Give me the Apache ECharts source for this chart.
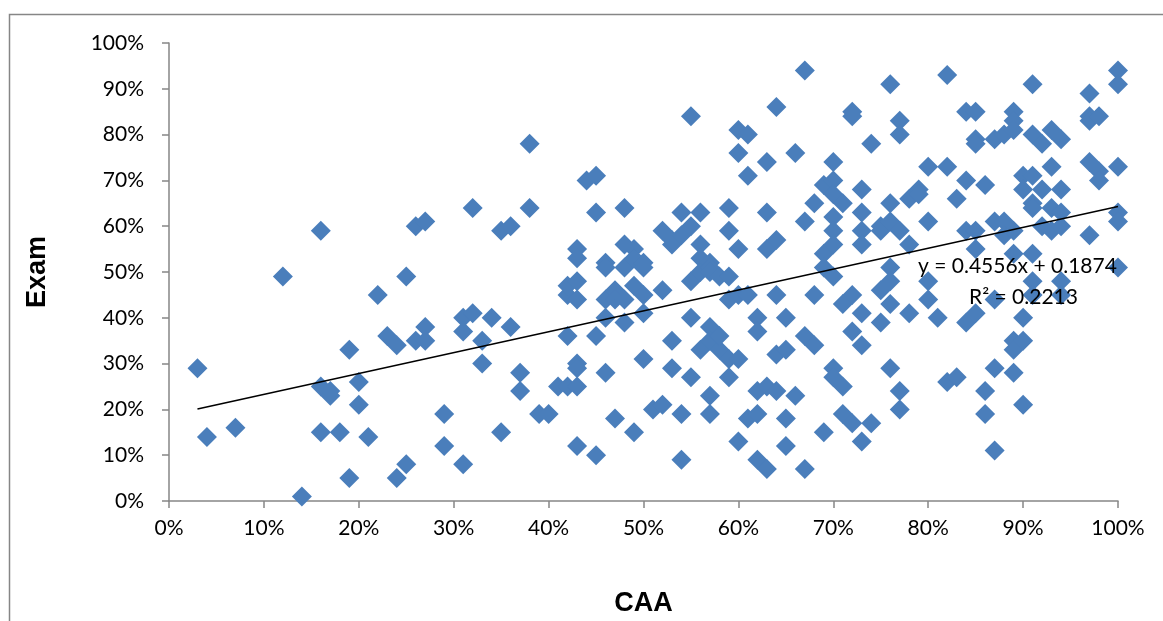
<!DOCTYPE html>
<html>
<head>
<meta charset="utf-8">
<script src="https://cdn.jsdelivr.net/npm/echarts@6/dist/echarts.min.js"></script>
<style>
  html, body { margin: 0; padding: 0; background: #fff; }
  #chart { width: 1163px; height: 621px; }
</style>
</head>
<body>
<div id="chart"></div>
<script>
// CAA score (x) and exam score (y), in percent, grouped by CAA value
const caaGroups = [3, 4, 7, 12, 14, 16, 17, 18, 19, 20, 21, 22, 23, 24, 25, 26, 27, 29, 31, 32,
  33, 34, 35, 36, 37, 38, 39, 40, 41, 42, 43, 44, 45, 46, 47, 48, 49, 50, 51, 52,
  53, 54, 55, 56, 57, 58, 59, 60, 61, 62, 63, 64, 65, 66, 67, 68, 69, 70, 71, 72, 73,
  74, 75, 76, 77, 78, 79, 80, 81, 82, 83, 84, 85, 86, 87, 88, 89, 90, 91, 92, 93,
  94, 97, 98, 100];
const examByGroup = [
  [29], [14], [16], [49], [1], [59, 25, 15], [23, 24], [15], [33, 5], [26, 21],
  [14], [45], [36], [34, 5], [49, 8], [60, 35], [61, 38, 35], [19, 12], [40, 37, 8], [64, 41],
  [35, 30], [40], [59, 15], [60, 38], [28, 24], [78, 64], [19], [19], [25], [45, 36, 25, 47],
  [55, 53, 48, 44, 30, 29, 25, 12], [70], [71, 63, 36, 10], [52, 51, 40, 28, 44], [46, 44, 18],
  [64, 56, 51, 39, 44], [55, 53, 47, 15], [52, 51, 45, 41, 31], [20], [59, 46, 21],
  [56, 35, 29, 57], [63, 58, 19, 9], [84, 60, 48, 40, 27], [63, 56, 53, 50, 33],
  [52, 51, 50, 38, 35, 23, 19], [49, 33, 36], [64, 59, 49, 44, 31, 27], [81, 76, 55, 45, 31, 13],
  [80, 71, 45, 18], [40, 37, 24, 19, 9], [74, 63, 55, 25, 7], [86, 57, 45, 32, 24],
  [40, 33, 18, 12], [76, 23], [94, 61, 36, 7], [65, 45, 34], [69, 54, 51, 15],
  [74, 70, 67, 62, 59, 56, 49, 29, 27], [65, 43, 25, 19], [85, 84, 45, 37, 17],
  [68, 63, 59, 56, 41, 34, 13], [78, 17], [60, 59, 46, 39], [91, 65, 61, 51, 48, 43, 29],
  [83, 80, 59, 24, 20], [66, 56, 41], [68, 67], [73, 61, 48, 44], [40], [93, 73, 26], [66, 27],
  [85, 70, 59, 39], [85, 79, 78, 59, 55, 41], [69, 24, 19], [79, 61, 44, 29, 11], [80, 61, 58],
  [85, 83, 81, 59, 54, 35, 33, 28], [71, 68, 40, 35, 21], [91, 80, 71, 65, 64, 48, 45, 54],
  [78, 68, 60], [81, 73, 64, 59], [79, 68, 63, 60, 48, 45], [89, 84, 83, 74, 58], [72, 70, 84],
  [94, 91, 73, 63, 61, 51]
];
// Linear trend: y = 0.4556x + 0.1874 over the CAA range
const trendSlope = 0.4556;
const trendIntercept = 0.1874;
const trendRange = [0.03, 1.0];
const trendEquation = 'y = 0.4556x + 0.1874';
const trendR2 = 'R² = 0.2213';

const points = [];
caaGroups.forEach((x, i) => {
  examByGroup[i].forEach(y => points.push([x / 100, y / 100]));
});
const trendPoints = trendRange.map(x => [x, trendSlope * x + trendIntercept]);

const pct = v => Math.round(v * 100) + '%';
const labelFont = 'Lato, "Open Sans", sans-serif';
const axisGray = '#868686';

const chart = echarts.init(document.getElementById('chart'), null, { renderer: 'canvas' });
chart.setOption({
  animation: false,
  backgroundColor: '#ffffff',
  grid: { left: 169, right: 45, top: 43, bottom: 120, containLabel: false, outerBoundsMode: 'none' },
  xAxis: {
    type: 'value', min: 0, max: 1, interval: 0.1,
    name: 'CAA', nameLocation: 'middle', nameGap: 89,
    nameTextStyle: { fontFamily: '"Liberation Sans", Arial, sans-serif', fontWeight: 'bold', fontSize: 27, color: '#000' },
    axisLine: { show: true, lineStyle: { color: axisGray, width: 1.5 } },
    axisTick: { show: true, inside: false, length: 7, lineStyle: { color: axisGray, width: 1.5 } },
    axisLabel: { formatter: pct, fontFamily: labelFont, fontSize: 21, color: '#000', margin: 17 },
    splitLine: { show: false }
  },
  yAxis: {
    type: 'value', min: 0, max: 1, interval: 0.1,
    name: 'Exam', nameLocation: 'middle', nameGap: 118, nameRotate: 90,
    nameTextStyle: { fontFamily: '"Liberation Sans", Arial, sans-serif', fontWeight: 'bold', fontSize: 27, color: '#000' },
    axisLine: { show: true, lineStyle: { color: axisGray, width: 1.5 } },
    axisTick: { show: true, inside: false, length: 7, lineStyle: { color: axisGray, width: 1.5 } },
    axisLabel: { formatter: pct, fontFamily: labelFont, fontSize: 21, color: '#000', margin: 25 },
    splitLine: { show: false }
  },
  series: [
    {
      name: 'Exam', type: 'scatter', data: points,
      symbol: 'diamond', symbolSize: 20,
      itemStyle: { color: '#4A7EBB', opacity: 1 },
      z: 2
    },
    {
      name: 'Linear (Exam)', type: 'line', data: trendPoints,
      symbol: 'none', lineStyle: { color: '#000', width: 1.5 },
      z: 3
    }
  ],
  graphic: [
    {
      type: 'rect', silent: true, z: -1,
      shape: { x: 9.5, y: 14.5, width: 1300, height: 800 },
      style: { fill: 'none', stroke: axisGray, lineWidth: 1.5 }
    },
    {
      type: 'text', left: 918, top: 256, z: 10,
      style: { text: trendEquation, fontFamily: labelFont, fontSize: 21, fill: '#000' }
    },
    {
      type: 'text', left: 969, top: 287, z: 10,
      style: { text: trendR2, fontFamily: labelFont, fontSize: 21, fill: '#000' }
    }
  ]
});
</script>
</body>
</html>
